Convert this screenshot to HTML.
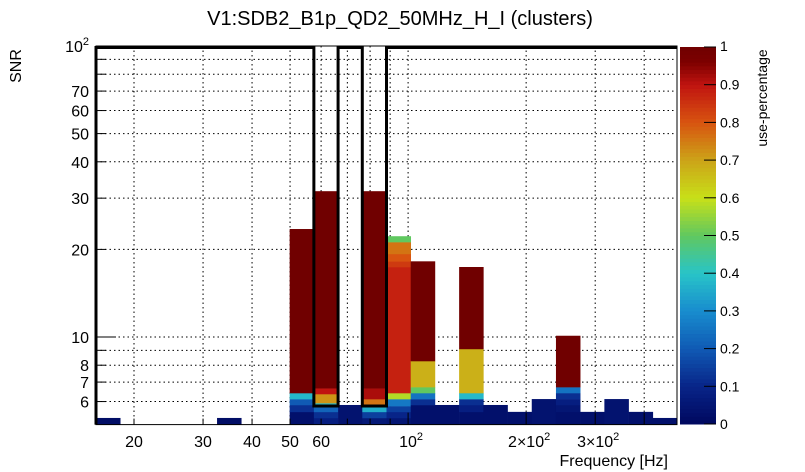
<!DOCTYPE html>
<html><head><meta charset="utf-8"><style>
html,body{margin:0;padding:0;background:#fff;}
svg{display:block;font-family:"Liberation Sans",sans-serif;}
</style></head><body>
<svg id="c" width="805" height="472" viewBox="0 0 805 472">
<rect width="805" height="472" fill="#fff"/>
<text x="400" y="25" font-size="20" text-anchor="middle">V1:SDB2_B1p_QD2_50MHz_H_I (clusters)</text>
<text transform="translate(21,66) rotate(-90)" font-size="16" text-anchor="middle">SNR</text>
<text x="668" y="466" font-size="16" text-anchor="end">Frequency [Hz]</text>
<text transform="translate(767,98) rotate(-90)" font-size="14" text-anchor="middle">use-percentage</text>
<g id="grid"></g>
<g id="bars"></g>
<g id="axes"></g>
<g id="cbar"></g>
</svg>
<script>
const binIdx = [0,5,8,9,10,11,12,13,14,15,16,17,18,19,20,21,22,23];
const segTops = [
 [5.27],[5.27],
 [5.53,5.84,6.12,6.42,23.5],
 [5.27,5.53,5.79,5.93,6.37,6.67,31.7],
 [5.84],
 [5.27,5.53,5.79,6.12,6.67,31.7],
 [5.27,5.53,5.79,6.12,6.42,17.4,18.2,19.3,21.2,22.2],
 [5.84,6.12,6.42,6.73,8.27,18.2],
 [5.84],
 [5.53,5.84,6.12,6.42,9.1,17.4],
 [5.84],[5.53],[6.12],
 [5.53,5.84,6.12,6.42,6.73,10.1],
 [5.53],[6.12],[5.53],[5.27]
];
const segUse = [
 [0.02],[0.02],
 [0.03,0.12,0.2,0.38,1.0],
 [0.08,0.12,0.22,0.38,0.72,0.9,1.0],
 [0.04],
 [0.06,0.15,0.36,0.76,0.92,1.0],
 [0.05,0.1,0.15,0.26,0.58,0.88,0.84,0.8,0.76,0.5],
 [0.03,0.12,0.25,0.5,0.68,1.0],
 [0.03],
 [0.03,0.08,0.12,0.38,0.68,1.0],
 [0.03],[0.03],[0.04],
 [0.03,0.05,0.08,0.12,0.25,1.0],
 [0.03],[0.04],[0.03],[0.03]
];
const boxedBins = [9,11];
const xGrid = [20,30,40,50,60,70,80,90,100,200,300,400];
const xLabels = [[20,"20"],[30,"30"],[40,"40"],[50,"50"],[60,"60"],[100,"10^2"],[200,"2×10^2"],[300,"3×10^2"]];
const yGrid = [6,7,8,9,10,20,30,40,50,60,70,80,90];
const yLabels = [6,7,8,10,20,30,40,50,60,70];
const cbTicks = [0,0.1,0.2,0.3,0.4,0.5,0.6,0.7,0.8,0.9,1];

const X0=96,X1=677,Y0=46,Y1=424.6,XMIN=16,XMAX=485,YMIN=5,YMAX=100,NB=24;
const xs=v=>X0+(X1-X0)*Math.log(v/XMIN)/Math.log(XMAX/XMIN);
const ys=v=>Y1-(Y1-Y0)*Math.log(v/YMIN)/Math.log(YMAX/YMIN);
const binEdge=i=>XMIN*Math.pow(XMAX/XMIN,i/NB);
const stops=[[0,[0,8,94]],[0.1,[8,36,136]],[0.2,[16,90,180]],[0.3,[24,140,206]],[0.4,[40,196,200]],[0.5,[96,200,96]],[0.6,[200,224,24]],[0.7,[204,164,24]],[0.8,[216,84,16]],[0.9,[192,20,16]],[0.96,[125,0,0]],[1,[112,0,0]]];
function cmap(u){for(let i=1;i<stops.length;i++){if(u<=stops[i][0]){const a=stops[i-1],b=stops[i],t=(u-a[0])/(b[0]-a[0]);const c=a[1].map((v,k)=>Math.round(v+(b[1][k]-v)*t));return `rgb(${c})`;}}return 'rgb(112,0,0)';}
const NS='http://www.w3.org/2000/svg';
function mk(p,tag,at){const e=document.createElementNS(NS,tag);for(const k in at)e.setAttribute(k,at[k]);p.appendChild(e);return e;}
const grid=document.getElementById('grid'),bars=document.getElementById('bars'),axes=document.getElementById('axes'),cbar=document.getElementById('cbar');
xGrid.forEach(v=>{const l=mk(grid,'line',{x1:xs(v),x2:xs(v),y1:Y0,y2:Y1,stroke:'#000','stroke-width':1,'stroke-dasharray':'1.5 3'});

});
yGrid.forEach(v=>{const l=mk(grid,'line',{x1:X0,x2:X1,y1:ys(v),y2:ys(v),stroke:'#000','stroke-width':1,'stroke-dasharray':'1.5 3'});

});
binIdx.forEach((b,j)=>{let prev=YMIN;const xa=xs(binEdge(b)),xb=xs(binEdge(b+1));
segTops[j].forEach((t,k)=>{const r=mk(bars,'rect',{x:xa,y:ys(t),width:xb-xa+0.3,height:ys(prev)-ys(t)+0.3,fill:cmap(segUse[j][k])});

prev=t;});});
const fr=mk(axes,'rect',{x:X0,y:Y0,width:X1-X0,height:Y1-Y0,fill:'none',stroke:'#000','stroke-width':1});


let d=`M${X0},${Y1} L${X0},${Y0+1.5}`;
const yb=ys(5.79);
boxedBins.forEach(b=>{const xa=xs(binEdge(b)),xb=xs(binEdge(b+1));d+=` L${xa},${Y0+1.5} L${xa},${yb} L${xb},${yb} L${xb},${Y0+1.5}`;});
d+=` L${X1},${Y0+1.5}`;
const ol=mk(axes,'path',{d:d,fill:'none',stroke:'#000','stroke-width':3});


for(let v=6;v<=100;v+=(v<10?1:10)){const y=ys(v);const len=(v==10||v==100)?20:10;const t=mk(axes,'line',{x1:X0,x2:X0+len,y1:y,y2:y,stroke:'#000','stroke-width':1});

}
yLabels.forEach(v=>{const t=mk(axes,'text',{x:X0-7,y:ys(v)+6,'font-size':16,'text-anchor':'end'});t.textContent=v;

});
const yt=mk(axes,'text',{x:X0-7,y:ys(100)+6,'font-size':16,'text-anchor':'end'});yt.innerHTML='10<tspan dy="-7" font-size="11">2</tspan>';


xGrid.forEach(v=>{const t=mk(axes,'line',{x1:xs(v),x2:xs(v),y1:Y1,y2:Y1-(v%100==0?12:6),stroke:'#000','stroke-width':1});

});
xLabels.forEach(([v,s])=>{const t=mk(axes,'text',{x:xs(v),y:447,'font-size':16,'text-anchor':'middle'});
const p=s.split('^');if(p.length>1){t.innerHTML=p[0]+'<tspan dy="-7" font-size="11">'+p[1]+'</tspan>';t.setAttribute('x',xs(v)+3);}else t.textContent=s;

});
const CX=680,CW=36,CY0=47,CY1=424;
for(let i=0;i<100;i++){const r=mk(cbar,'rect',{x:CX,y:CY1-(i+1)*(CY1-CY0)/100,width:CW,height:(CY1-CY0)/100+0.5,fill:cmap((i+0.5)/100)});

}
cbTicks.forEach(u=>{const y=CY1-u*(CY1-CY0);const l=mk(cbar,'line',{x1:CX+CW-12,x2:CX+CW,y1:y,y2:y,stroke:'#000','stroke-width':1});


const t=mk(cbar,'text',{x:CX+CW+4,y:y+(u==1?4:5),'font-size':14});t.textContent=u;

});
</script>
</body></html>
